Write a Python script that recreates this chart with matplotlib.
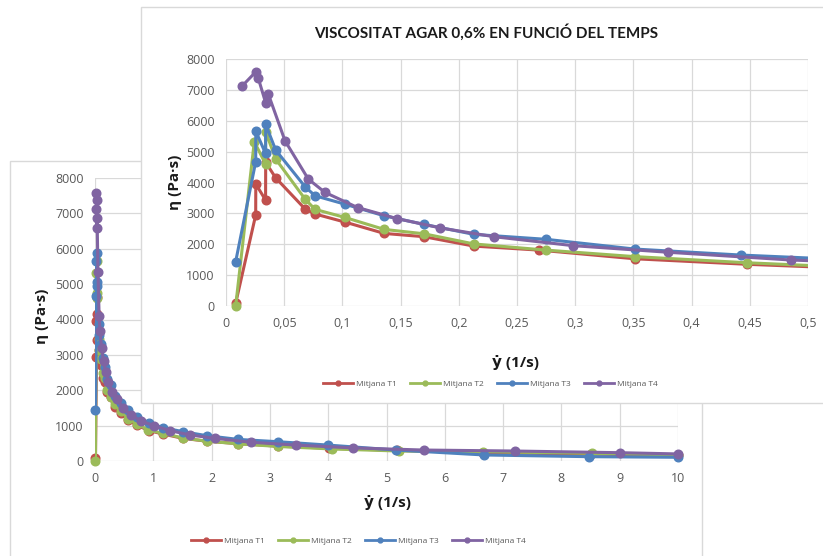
import matplotlib
matplotlib.use("Agg")
import matplotlib.pyplot as plt
from matplotlib.patches import Rectangle
from matplotlib.lines import Line2D

# ---- data: shear rate (1/s) and viscosity (Pa·s) for each sample ----
t1_rate = [0.0083, 0.0255, 0.0256, 0.034, 0.0341, 0.0427, 0.068, 0.0765, 0.102, 0.136,
           0.170, 0.213, 0.269, 0.351, 0.448, 0.57, 0.726, 0.92, 1.17, 1.51, 1.92, 2.46,
           3.14, 4.02, 5.18, 6.66, 8.5, 10.0]
t1_visc = [87, 2945, 3950, 3430, 4650, 4150, 3140, 2980, 2720, 2350,
           2245, 1940, 1810, 1530, 1350, 1170, 1010, 860, 760, 640, 560, 490,
           420, 360, 300, 235, 195, 160]

t2_rate = [0.0083, 0.0243, 0.034, 0.0341, 0.0427, 0.068, 0.0765, 0.102, 0.136, 0.170,
           0.213, 0.275, 0.351, 0.448, 0.57, 0.726, 0.91, 1.17, 1.51, 1.92, 2.46, 3.14,
           4.06, 5.21, 6.65, 8.52, 10.0]
t2_visc = [0, 5320, 4600, 5640, 4760, 3460, 3130, 2870, 2480, 2340,
           2010, 1810, 1600, 1400, 1200, 1050, 875, 780, 650, 560, 485, 410,
           340, 282, 263, 217, 175]

t3_rate = [0.0083, 0.0255, 0.0256, 0.034, 0.0341, 0.0427, 0.068, 0.0765, 0.102, 0.136,
           0.170, 0.213, 0.275, 0.351, 0.4425, 0.57, 0.726, 0.92, 1.17, 1.51, 1.92, 2.46,
           3.14, 4.0, 5.16, 6.68, 8.48, 10.0]
t3_visc = [1435, 4670, 5660, 4940, 5880, 5050, 3860, 3570, 3300, 2920,
           2645, 2320, 2160, 1845, 1650, 1440, 1250, 1080, 940, 830, 715, 610,
           545, 450, 310, 170, 122, 105]

t4_rate = [0.014, 0.0255, 0.0278, 0.034, 0.0364, 0.0507, 0.0707, 0.085, 0.113, 0.147,
           0.184, 0.230, 0.298, 0.380, 0.485, 0.62, 0.79, 1.01, 1.29, 1.63, 2.06, 2.67,
           3.45, 4.42, 5.64, 7.20, 9.0, 10.0]
t4_visc = [7130, 7580, 7370, 6590, 6860, 5350, 4110, 3680, 3190, 2830,
           2530, 2245, 1955, 1740, 1490, 1300, 1130, 1000, 857, 735, 640, 530,
           450, 370, 310, 282, 235, 200]

series_names = ["Mitjana T1", "Mitjana T2", "Mitjana T3", "Mitjana T4"]
series_colors = ["#C0504D", "#9BBB59", "#4F81BD", "#8064A2"]

y_ticks = [0, 1000, 2000, 3000, 4000, 5000, 6000, 7000, 8000]
zoom_x_ticks = [0, 0.05, 0.1, 0.15, 0.2, 0.25, 0.3, 0.35, 0.4, 0.45, 0.5]
zoom_x_labels = ["0", "0,05", "0,1", "0,15", "0,2", "0,25", "0,3", "0,35", "0,4", "0,45", "0,5"]
full_x_ticks = [0, 1, 2, 3, 4, 5, 6, 7, 8, 9, 10]

title_text = "VISCOSITAT AGAR 0,6% EN FUNCIÓ DEL TEMPS"
x_label = "ẏ (1/s)"
y_label = "η (Pa·s)"

series = list(zip([t1_rate, t2_rate, t3_rate, t4_rate],
                  [t1_visc, t2_visc, t3_visc, t4_visc],
                  series_colors, series_names))

# ---- layout helpers (pixel coordinates, origin top-left) ----
W, H = 823, 556
plt.rcParams["font.family"] = ["Open Sans", "DejaVu Sans"]
fig = plt.figure(figsize=(W / 100, H / 100), dpi=100)
fig.patch.set_facecolor("white")


def fbox(x0, y0, x1, y1):
    return [x0 / W, 1 - y1 / H, (x1 - x0) / W, (y1 - y0) / H]


def fpt(x, y):
    return x / W, 1 - y / H


GRID = "#d9d9d9"
TICK = "#595959"
TEXT = "#1a1a1a"


def style_axes(ax, xmax, xticks, xlabels):
    ax.set_xlim(0, xmax)
    ax.set_ylim(0, 8000)
    ax.set_xticks(xticks)
    ax.set_xticklabels(xlabels)
    ax.set_yticks(y_ticks)
    ax.set_yticklabels([str(v) for v in y_ticks])
    for s in ax.spines.values():
        s.set_visible(False)
    ax.grid(True, color=GRID, lw=0.9)
    ax.set_axisbelow(True)
    ax.tick_params(length=0, labelsize=9, labelcolor=TICK)
    ax.tick_params(axis="y", pad=8)
    ax.tick_params(axis="x", pad=8)
    ax.set_facecolor("none")


def draw_series(ax, xmax):
    for i, (xs, ys, c, name) in enumerate(series):
        z = 3 + i * 0.1
        ax.plot(xs, ys, color=c, lw=2.2, zorder=z, solid_capstyle="round")
        mx = [a for a in xs if a <= xmax]
        my = [b for a, b in zip(xs, ys) if a <= xmax]
        ax.plot(mx, my, ls="none", marker="o", ms=6.2, color=c, zorder=z, clip_on=False)


def add_legend(ax, cx, cy):
    handles = [Line2D([], [], color=c, lw=2.0, marker="o", ms=3.5) for c in series_colors]
    leg = ax.legend(handles, series_names, loc="center", bbox_to_anchor=fpt(cx, cy),
                    bbox_transform=fig.transFigure, ncol=4, frameon=False,
                    fontsize=6, handlelength=3.6, handletextpad=0.35,
                    columnspacing=1.6, borderpad=0)
    for t in leg.get_texts():
        t.set_color(TICK)


# ---- full-range chart (behind) ----
back_frame = Rectangle(fpt(10, 570), (702 - 10) / W, (570 - 161) / H,
                       transform=fig.transFigure, fc="white", ec=GRID, lw=1.0, zorder=0.5)
fig.add_artist(back_frame)

ax_full = fig.add_axes(fbox(95, 178, 678, 461))
ax_full.set_zorder(1)
style_axes(ax_full, 10, full_x_ticks, [str(v) for v in full_x_ticks])
draw_series(ax_full, 10)
add_legend(ax_full, 358, 541)
fig.text(*fpt(42, 316), y_label, rotation=90, ha="center", va="center",
         fontsize=11, fontweight="bold", color=TEXT, zorder=1.5)
fig.text(*fpt(387, 503), x_label, ha="center", va="center",
         fontsize=11, fontweight="bold", color=TEXT, zorder=1.5)

# ---- low shear-rate chart (front) ----
front_frame = Rectangle(fpt(141, 403), (840 - 141) / W, (403 - 7) / H,
                        transform=fig.transFigure, fc="white", ec=GRID, lw=1.0, zorder=2)
fig.add_artist(front_frame)

ax_zoom = fig.add_axes(fbox(226, 59, 808, 306))
ax_zoom.set_zorder(3)
style_axes(ax_zoom, 0.5, zoom_x_ticks, zoom_x_labels)
draw_series(ax_zoom, 0.5)
add_legend(ax_zoom, 490, 384)
fig.text(*fpt(486, 32), title_text, ha="center", va="center",
         fontsize=11, fontweight="bold", color=TEXT, zorder=4,
         family=["Lato", "DejaVu Sans"])
fig.text(*fpt(175, 182), y_label, rotation=90, ha="center", va="center",
         fontsize=11, fontweight="bold", color=TEXT, zorder=4)
fig.text(*fpt(515, 363), x_label, ha="center", va="center",
         fontsize=11, fontweight="bold", color=TEXT, zorder=4)

fig.savefig("out.png", dpi=100, facecolor="white")
